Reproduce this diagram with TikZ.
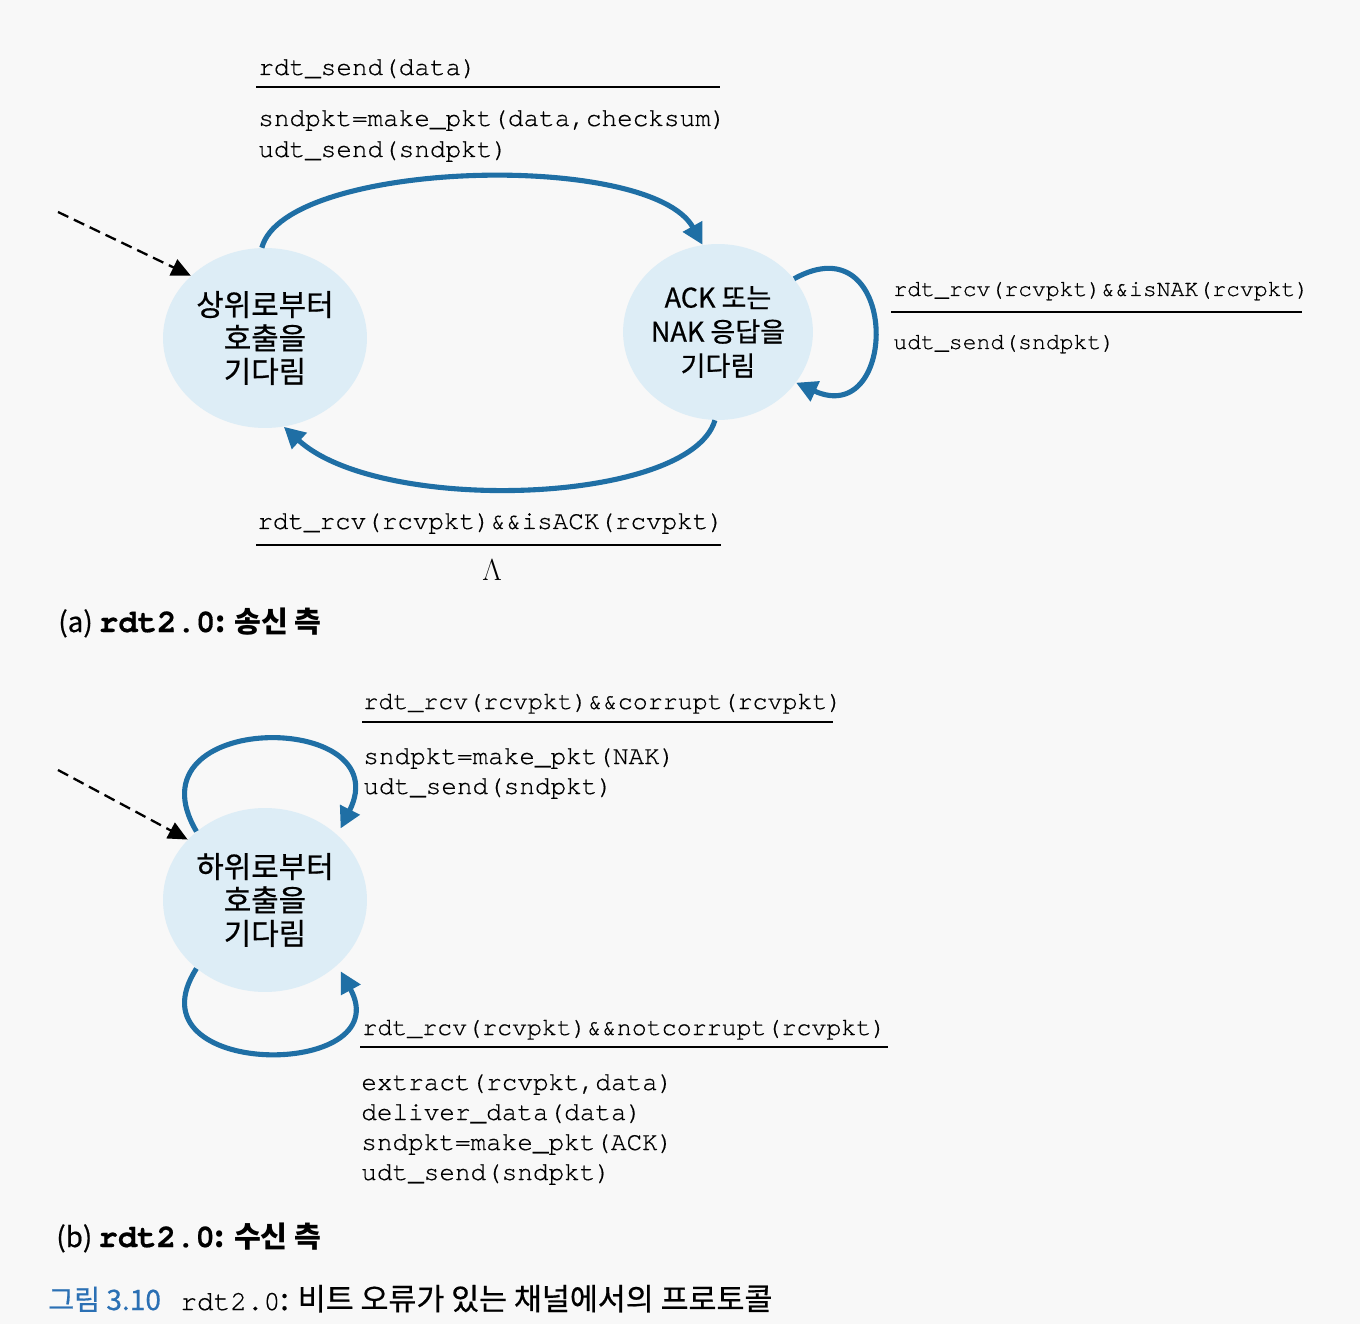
\documentclass[tikz,border=0pt]{standalone}
\usepackage{fontspec}
\usetikzlibrary{arrows.meta,shapes.geometric}
\newfontfamily\kr{Noto Sans CJK KR}
\newfontfamily\krm[FakeBold=0.6]{Noto Sans CJK KR}
\newfontfamily\mono[FakeBold=0.5]{TeX Gyre Cursor}
\definecolor{arrowblue}{RGB}{31,111,165}
\definecolor{stateblue}{RGB}{221,237,246}
\definecolor{capblue}{RGB}{43,112,180}
\definecolor{paper}{RGB}{248,248,248}
\begin{document}
\begin{tikzpicture}[x=0.02cm,y=-0.02cm,
  state/.style={ellipse, inner sep=0pt, fill=stateblue, align=center,
    font=\krm\fontsize{17}{19}\selectfont},
  trans/.style={draw=arrowblue, line width=2.9pt, -{Triangle[length=12pt,width=12pt]}},
  init/.style={draw=black, line width=1.3pt, dash pattern=on 6.5pt off 3.5pt,
    -{Triangle[length=11pt,width=10pt]}},
  lbl/.style={anchor=base west, inner sep=0pt, font=\mono\fontsize{14.8}{17}\selectfont},
  lblnak/.style={lbl, font=\mono\fontsize{13.15}{15}\selectfont},
  lblack/.style={lbl, font=\mono\fontsize{14.75}{17}\selectfont},
  lblb/.style={lbl, font=\mono\fontsize{14.2}{17}\selectfont},
  lblbb/.style={lbl, font=\mono\fontsize{14.8}{17}\selectfont},
  rulel/.style={draw=black, line width=1.3pt},
  captxt/.style={anchor=base west, inner sep=0pt, font=\krm\fontsize{15.8}{20}\selectfont}
]
\fill[paper] (0,0) rectangle (1360,1324);
\useasboundingbox (0,0) rectangle (1360,1324);

% ---------- (a) sender ----------
\node[state, minimum width=4.08cm, minimum height=3.6cm] (A1) at (265,338)
  {상위로부터\\호출을\\기다림};
\node[state, minimum width=3.68cm, minimum height=3.52cm,
  font=\krm\fontsize{15.4}{19.4}\selectfont] (A2) at (718,332)
  {ACK 또는\\NAK 응답을\\기다림};

\coordinate (ia) at (58,212);
\draw[init] (ia) -- (A1.140);

\draw[trans] (A1.92) .. controls (285,160) and (650,150) .. (A2.100);
\draw[trans] (A2.268) .. controls (690,505) and (380,515) .. (A1.282);
\draw[trans] (A2.35) .. controls (900,220) and (900,430) .. (A2.-33);

\node[lbl] (t1) at (258,75) {rdt\_send(data)};
\draw[rulel] (256,87) -- (720,87);
\node[lbl] (t2) at (258,126) {sndpkt=make\_pkt(data,checksum)};
\node[lbl] (t3) at (258,157) {udt\_send(sndpkt)};

\node[lblnak] (n1) at (893,296) {rdt\_rcv(rcvpkt)\&\&isNAK(rcvpkt)};
\draw[rulel] (891,312) -- (1302,312);
\node[lblnak] (n2) at (893,349) {udt\_send(sndpkt)};

\node[lblack] (k1) at (257,529) {rdt\_rcv(rcvpkt)\&\&isACK(rcvpkt)};
\draw[rulel] (256,545) -- (721,545);
\node[inner sep=0pt, font=\fontsize{19}{19}\selectfont] (lam) at (492,570) {$\Lambda$};

\node[captxt] (capa) at (58,632) {(a) {\mono\bfseries\fontsize{18.4}{20}\selectfont rdt2.0}{\kr\bfseries\fontsize{16.6}{20}\selectfont: 송신 측}};

% ---------- (b) receiver ----------
\node[state, minimum width=4.08cm, minimum height=3.68cm] (B) at (265,900)
  {하위로부터\\호출을\\기다림};

\coordinate (ib) at (58,770);
\draw[init] (ib) -- (B.142);

\draw[trans, shorten >=4pt] (B.135) .. controls (125,710) and (400,710) .. (B.42);
\draw[trans, shorten >=4pt] (B.225) .. controls (125,1080) and (400,1080) .. (B.-42);

\node[lblb] (c1) at (363,709) {rdt\_rcv(rcvpkt)\&\&corrupt(rcvpkt)};
\draw[rulel] (362,722) -- (833,722);
\node[lblbb] (c2) at (363,764) {sndpkt=make\_pkt(NAK)};
\node[lblbb] (c3) at (363,794) {udt\_send(sndpkt)};

\node[lblb] (d1) at (362,1035) {rdt\_rcv(rcvpkt)\&\&notcorrupt(rcvpkt)};
\draw[rulel] (360,1047) -- (888,1047);
\node[lblbb] (d2) at (361,1090) {extract(rcvpkt,data)};
\node[lblbb] (d3) at (361,1120) {deliver\_data(data)};
\node[lblbb] (d4) at (361,1150) {sndpkt=make\_pkt(ACK)};
\node[lblbb] (d5) at (361,1180) {udt\_send(sndpkt)};

\node[captxt] (capb) at (56,1247) {(b) {\mono\bfseries\fontsize{18.4}{20}\selectfont rdt2.0}{\kr\bfseries\fontsize{16.6}{20}\selectfont: 수신 측}};

% ---------- figure caption ----------
\node[captxt, text=capblue, font=\krm\fontsize{16}{20}\selectfont] (fig) at (48,1310) {그림 3.10};
\node[captxt, font=\krm\fontsize{17.3}{20}\selectfont] (figt) at (180,1310)
  {{\mono\fontsize{15.8}{20}\selectfont rdt2.0}: 비트 오류가 있는 채널에서의 프로토콜};
\end{tikzpicture}
\end{document}
